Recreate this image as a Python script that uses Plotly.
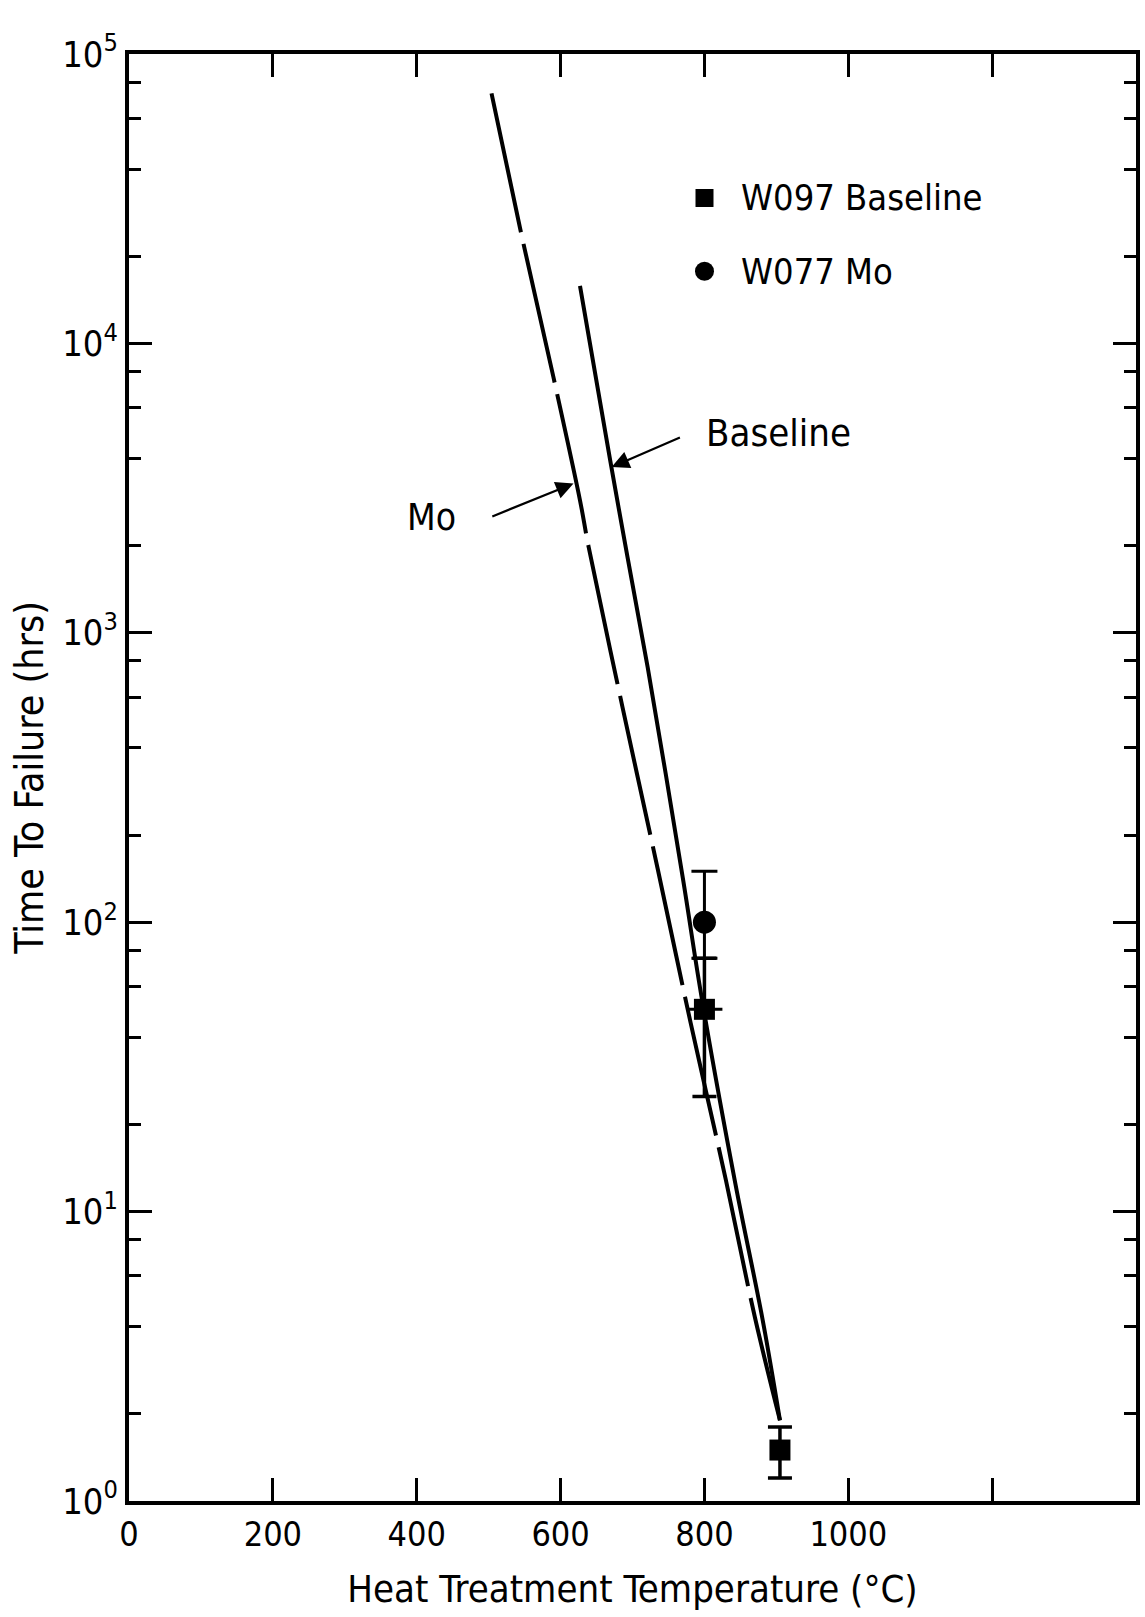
import plotly.graph_objects as go

# Fitted rupture-life curves (temperature in deg C, time to failure in hours)
mo_temp = [504, 544, 590, 627, 639, 686, 735, 781, 830, 870, 905]
mo_hours = [73100, 24800, 7660, 2870, 1980, 555, 153, 44.7, 12.8, 4.33, 1.90]

base_temp = [627, 669, 693, 721, 770, 796, 843, 881, 905]
base_hours = [15800, 3940, 1830, 762, 142, 55.2, 12.5, 4.22, 1.90]

# Measured points
w097_temp = [800, 905]
w097_hours = [50, 1.5]
w097_err_plus = [25, 0.3]
w097_err_minus = [25, 0.3]
w097_terr = [25, 0]

w077_temp = [800]
w077_hours = [100]
w077_err_plus = [50]
w077_err_minus = [25]

# Axis ticks
x_tickvals = [0, 200, 400, 600, 800, 1000, 1200]
x_ticktext = ["0", "200", "400", "600", "800", "1000", ""]
y_tickvals = [1, 10, 100, 1000, 10000, 100000]
y_ticktext = ["10<sup>0</sup>", "10<sup>1</sup>", "10<sup>2</sup>",
              "10<sup>3</sup>", "10<sup>4</sup>", "10<sup>5</sup>"]
y_minor = [m * 10 ** d for d in range(5) for m in (2, 4, 6, 8)]

FONT = "Liberation Sans Narrow, DejaVu Sans Condensed, Roboto Condensed, Arial Narrow, sans-serif"
INK = "#000000"

fig = go.Figure()

fig.add_trace(go.Scatter(
    x=mo_temp, y=mo_hours, mode="lines", name="Mo",
    line=dict(color=INK, width=4, dash="142px,12px", shape="spline"),
    showlegend=False,
))
fig.add_trace(go.Scatter(
    x=base_temp, y=base_hours, mode="lines", name="Baseline",
    line=dict(color=INK, width=4, shape="spline"),
    showlegend=False,
))
fig.add_trace(go.Scatter(
    x=w077_temp, y=w077_hours, mode="markers", name="W077 Mo",
    marker=dict(symbol="circle", size=23, color=INK),
    error_y=dict(type="data", symmetric=False, array=w077_err_plus,
                 arrayminus=w077_err_minus, color=INK, thickness=3, width=13),
    showlegend=False,
))
fig.add_trace(go.Scatter(
    x=w097_temp, y=w097_hours, mode="markers", name="W097 Baseline",
    marker=dict(symbol="square", size=21, color=INK),
    error_y=dict(type="data", symmetric=False, array=w097_err_plus,
                 arrayminus=w097_err_minus, color=INK, thickness=3.5, width=12),
    error_x=dict(type="data", array=w097_terr, color=INK, thickness=3, width=0),
    showlegend=False,
))

# Key in the upper right of the plot area
key_items = [("square", 0.9005, "W097 Baseline", 18),
             ("circle", 0.8498, "W077 Mo", 19)]
shapes = []
annotations = []
for kind, ky, label, sz in key_items:
    shapes.append(dict(
        type="rect" if kind == "square" else "circle",
        xref="paper", yref="paper", xsizemode="pixel", ysizemode="pixel",
        xanchor=0.5715, yanchor=ky, x0=-sz / 2, x1=sz / 2, y0=-sz / 2, y1=sz / 2,
        fillcolor=INK, line=dict(color=INK, width=0),
    ))
    annotations.append(dict(
        xref="paper", yref="paper", x=0.606, y=ky, xanchor="left", yanchor="middle",
        text=label, showarrow=False, font=dict(family=FONT, size=36, color=INK),
    ))

# Curve labels with leader arrows
annotations += [
    dict(x=421, y=3.397, xref="x", yref="y", text="Mo", showarrow=False,
         font=dict(family=FONT, size=37, color=INK)),
    dict(x=903, y=3.689, xref="x", yref="y", text="Baseline", showarrow=False,
         font=dict(family=FONT, size=38, color=INK)),
    dict(x=618, y=3.516, ax=503, ay=3.400, xref="x", yref="y", axref="x", ayref="y",
         text="", showarrow=True, arrowhead=2, arrowsize=1.6, arrowwidth=2.2,
         arrowcolor=INK),
    dict(x=671, y=3.573, ax=768, ay=3.677, xref="x", yref="y", axref="x", ayref="y",
         text="", showarrow=True, arrowhead=2, arrowsize=1.6, arrowwidth=2.2,
         arrowcolor=INK),
]

fig.update_layout(
    width=1145, height=1617,
    margin=dict(l=129, r=5, t=54, b=116),
    paper_bgcolor="white", plot_bgcolor="white",
    font=dict(family=FONT, size=34, color=INK),
    shapes=shapes, annotations=annotations,
    showlegend=False,
)

fig.update_xaxes(
    range=[0, 1400], tickmode="array", tickvals=x_tickvals, ticktext=x_ticktext,
    ticks="inside", ticklen=23, tickwidth=2.5, tickcolor=INK,
    showline=True, linewidth=4, linecolor=INK, mirror="allticks",
    showgrid=False, zeroline=False,
    tickfont=dict(family=FONT, size=34, color=INK),
    title=dict(text="Heat Treatment Temperature (\u00b0C)",
               font=dict(family=FONT, size=38, color=INK), standoff=24),
)
fig.update_yaxes(
    type="log", range=[0, 5], tickmode="array", tickvals=y_tickvals, ticktext=y_ticktext,
    ticks="inside", ticklen=23, tickwidth=2.5, tickcolor=INK,
    minor=dict(tickmode="array", tickvals=y_minor, ticks="inside", ticklen=12,
               tickwidth=2.5, tickcolor=INK, showgrid=False),
    showline=True, linewidth=4, linecolor=INK, mirror="allticks",
    showgrid=False, zeroline=False,
    tickfont=dict(family=FONT, size=36, color=INK),
    title=dict(text="Time To Failure (hrs)",
               font=dict(family=FONT, size=39, color=INK), standoff=8),
)

fig.write_html("out.html")
